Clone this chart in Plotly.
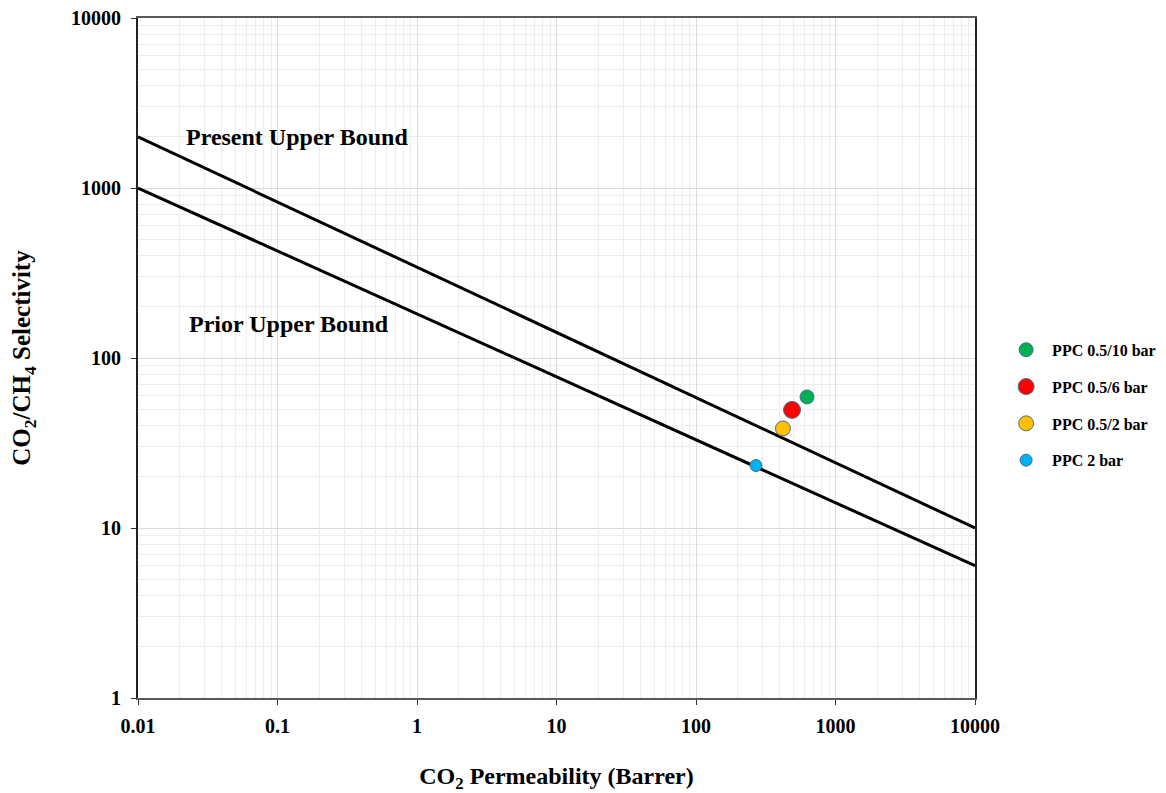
import plotly.graph_objects as go

# Bounds (endpoints)
bound_x = [0.01, 10000]
present_bound_y = [2000, 10]
prior_bound_y = [1000, 6]

# Data points
series_names = ["PPC 0.5/10 bar", "PPC 0.5/6 bar", "PPC 0.5/2 bar", "PPC 2 bar"]
perm = [625, 488, 420, 269]
selectivity = [59, 49.5, 38.5, 23.3]
colors = ["#00B050", "#FF0000", "#FFC000", "#00B0F0"]
sizes = [14, 17, 15, 12]

x_ticks = [0.01, 0.1, 1, 10, 100, 1000, 10000]
x_tick_labels = ["0.01", "0.1", "1", "10", "100", "1000", "10000"]
y_ticks = [1, 10, 100, 1000, 10000]
y_tick_labels = ["1", "10", "100", "1000", "10000"]

FONT = "Liberation Serif"

fig = go.Figure()
fig.add_trace(go.Scatter(x=bound_x, y=present_bound_y, mode="lines",
                         line=dict(color="black", width=3), showlegend=False,
                         hoverinfo="skip"))
fig.add_trace(go.Scatter(x=bound_x, y=prior_bound_y, mode="lines",
                         line=dict(color="black", width=3), showlegend=False,
                         hoverinfo="skip"))
for i, name in enumerate(series_names):
    fig.add_trace(go.Scatter(
        x=[perm[i]], y=[selectivity[i]], mode="markers", name=f"<b>{name}</b>",
        legendgroup=name,
        marker=dict(color=colors[i], size=sizes[i],
                    line=dict(color="#41719C", width=1))))

fig.add_annotation(x=-1.67, y=3.3, xref="x", yref="y", text="<b>Present Upper Bound</b>",
                   showarrow=False, xanchor="left", yanchor="middle",
                   font=dict(family=FONT, size=24, color="black"))
fig.add_annotation(x=-1.65, y=2.2, xref="x", yref="y", text="<b>Prior Upper Bound</b>",
                   showarrow=False, xanchor="left", yanchor="middle",
                   font=dict(family=FONT, size=24, color="black"))

grid_minor = dict(showgrid=True, gridcolor="#EDEDED", gridwidth=1, dtick="D1")

fig.update_xaxes(type="log", range=[-2, 4], tickvals=x_ticks,
                 ticktext=[f"<b>{t}</b>" for t in x_tick_labels],
                 showgrid=True, gridcolor="#DCDCDC", gridwidth=1,
                 minor=grid_minor,
                 showline=True, linecolor="#595959", linewidth=2, mirror=True,
                 ticks="outside", ticklen=5, tickcolor="#333333",
                 tickfont=dict(family=FONT, size=20, color="black"),
                 ticklabelstandoff=4,
                 automargin=False,
                 title=dict(text="<b>CO<sub>2</sub> Permeability (Barrer)</b>",
                            font=dict(family=FONT, size=24, color="black"),
                            standoff=34),
                 zeroline=False)
fig.update_yaxes(type="log", range=[0, 4], tickvals=y_ticks,
                 ticktext=[f"<b>{t}</b>" for t in y_tick_labels],
                 showgrid=True, gridcolor="#DCDCDC", gridwidth=1,
                 minor=grid_minor,
                 showline=True, linecolor="#222222", linewidth=2, mirror=True,
                 ticks="outside", ticklen=5, tickcolor="#333333",
                 tickfont=dict(family=FONT, size=20, color="black"),
                 ticklabelstandoff=6,
                 automargin=False,
                 title=dict(text="<b>CO<sub>2</sub>/CH<sub>4</sub> Selectivity</b>",
                            font=dict(family=FONT, size=25, color="black"),
                            standoff=33),
                 zeroline=False)

fig.update_layout(
    width=1166, height=793,
    margin=dict(l=138, r=191, t=18, b=95, autoexpand=False),
    paper_bgcolor="white", plot_bgcolor="white",
    legend=dict(x=1.03, y=0.537, xanchor="left", yanchor="top",
                font=dict(family=FONT, size=16, color="black"),
                tracegroupgap=13, itemsizing="trace", itemwidth=42,
                bgcolor="rgba(0,0,0,0)"),
    font=dict(family=FONT),
)

fig.write_html("out.html")
